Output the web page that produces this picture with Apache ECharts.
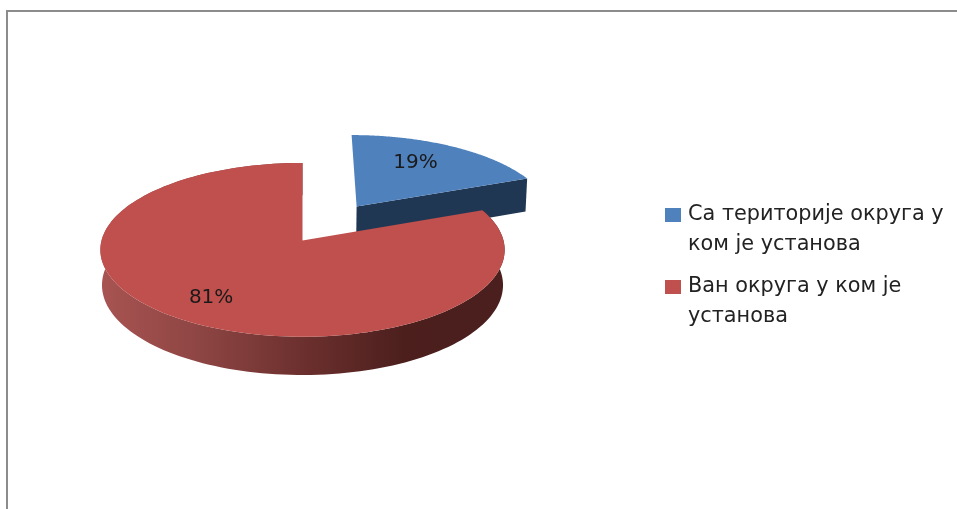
<!DOCTYPE html>
<html>
<head>
<meta charset="utf-8">
<style>
  html, body { margin: 0; padding: 0; background: #fff; }
  #chart { width: 957px; height: 509px; }
</style>
</head>
<body>
<div id="chart"></div>
<script src="https://cdn.jsdelivr.net/npm/echarts@6/dist/echarts.min.js"></script>
<script>
  var categories = ['Са територије округа у\nком је установа', 'Ван округа у ком је\nустанова'];
  var values = [19, 81];
  var percentLabels = ['19%', '81%'];
  var topColors = ['#4f81bd', '#bf504d'];

  var total = values.reduce(function (a, b) { return a + b; }, 0);
  var fontName = '"DejaVu Sans", sans-serif';

  // flat-disc projection of the tilted 3d pie, z=0 top face, z=1 bottom face
  var cx = 302.5, cy = 240.6, rx = 201, ry = 85.9, depth = 35.3;
  var persp = 0.1065, perspZ = 0.008;
  var explode = [0.5, 0]; // 19% slice is pulled out along its middle angle
  var labelPlace = [[0.683, -4.2], [0.755, 0]]; // radius, angle shift

  function project(x, y, z) {
    var w = 1 + persp * y + perspZ * z;
    return [cx + rx * x / w, cy + (-ry * y + depth * z) / w];
  }
  function rad(share) { return share * 2 * Math.PI; }
  function arcPoints(from, to, ox, oy, z) {
    var pts = [], n = 160;
    for (var i = 0; i <= n; i++) {
      var a = from + (to - from) * i / n;
      pts.push(project(ox + Math.sin(a), oy + Math.cos(a), z));
    }
    return pts;
  }

  function sliceRenderer(index) {
    return function (params, api) {
      var before = 0;
      for (var i = 0; i < index; i++) before += values[i];
      var from = rad(before / total);
      var to = from + rad(api.value(0) / total);
      var mid = (from + to) / 2;
      var ox = explode[index] * Math.sin(mid);
      var oy = explode[index] * Math.cos(mid);
      var children = [];

      if (index === 0) {
        // only the cut face towards the viewer shows on the small slice
        children.push({
          type: 'polygon',
          shape: { points: [project(ox, oy, 0), project(ox + Math.sin(to), oy + Math.cos(to), 0),
            project(ox + Math.sin(to), oy + Math.cos(to), 1), project(ox, oy, 1)] },
          style: { fill: '#203754' }
        });
      } else {
        var wall = arcPoints(from, to, ox, oy, 0).concat(arcPoints(from, to, ox, oy, 1).reverse());
        children.push({
          type: 'polygon',
          shape: { points: wall },
          style: {
            fill: new echarts.graphic.LinearGradient(0, 0, 1, 0, [
              { offset: 0, color: '#a85452' },
              { offset: 0.25, color: '#8d4543' },
              { offset: 0.5, color: '#6c302e' },
              { offset: 0.75, color: '#4c1f1d' },
              { offset: 1, color: '#4a1f1d' }
            ])
          }
        });
      }

      var face = [project(ox, oy, 0)].concat(arcPoints(from, to, ox, oy, 0));
      children.push({ type: 'polygon', shape: { points: face }, style: { fill: topColors[index] } });

      var lp = labelPlace[index];
      var la = mid + lp[1] * Math.PI / 180;
      var at = project(ox + lp[0] * Math.sin(la), oy + lp[0] * Math.cos(la), 0);
      children.push({
        type: 'text',
        x: at[0], y: at[1],
        style: {
          text: percentLabels[index], fill: '#1a1a1a', font: '20px ' + fontName,
          align: 'center', verticalAlign: 'middle'
        }
      });
      return { type: 'group', children: children };
    };
  }

  var chart = echarts.init(document.getElementById('chart'), null, { renderer: 'canvas' });
  chart.setOption({
    animation: false,
    backgroundColor: '#fff',
    legend: {
      orient: 'vertical',
      left: 665,
      top: 200,
      padding: 0,
      itemGap: 12,
      itemWidth: 16,
      itemHeight: 44,
      // square sits at the first text line, the empty lower part only stretches the box
      icon: 'path://M0 0H16V14H0Z M0 44H16V44H0Z',
      itemStyle: { borderWidth: 0 },
      textStyle: { fontFamily: fontName, fontSize: 20.8, lineHeight: 30, color: '#222', padding: [0, 0, 0, 2] },
      data: categories
    },
    graphic: [
      { type: 'rect', shape: { x: 6, y: 10, width: 2, height: 499 }, style: { fill: '#8c8c8c' } },
      { type: 'rect', shape: { x: 6, y: 10, width: 951, height: 2 }, style: { fill: '#8c8c8c' } }
    ],
    series: categories.map(function (name, i) {
      return {
        type: 'custom',
        name: name,
        coordinateSystem: 'none',
        itemStyle: { color: topColors[i] },
        renderItem: sliceRenderer(i),
        data: [[values[i]]]
      };
    })
  });
</script>
</body>
</html>
